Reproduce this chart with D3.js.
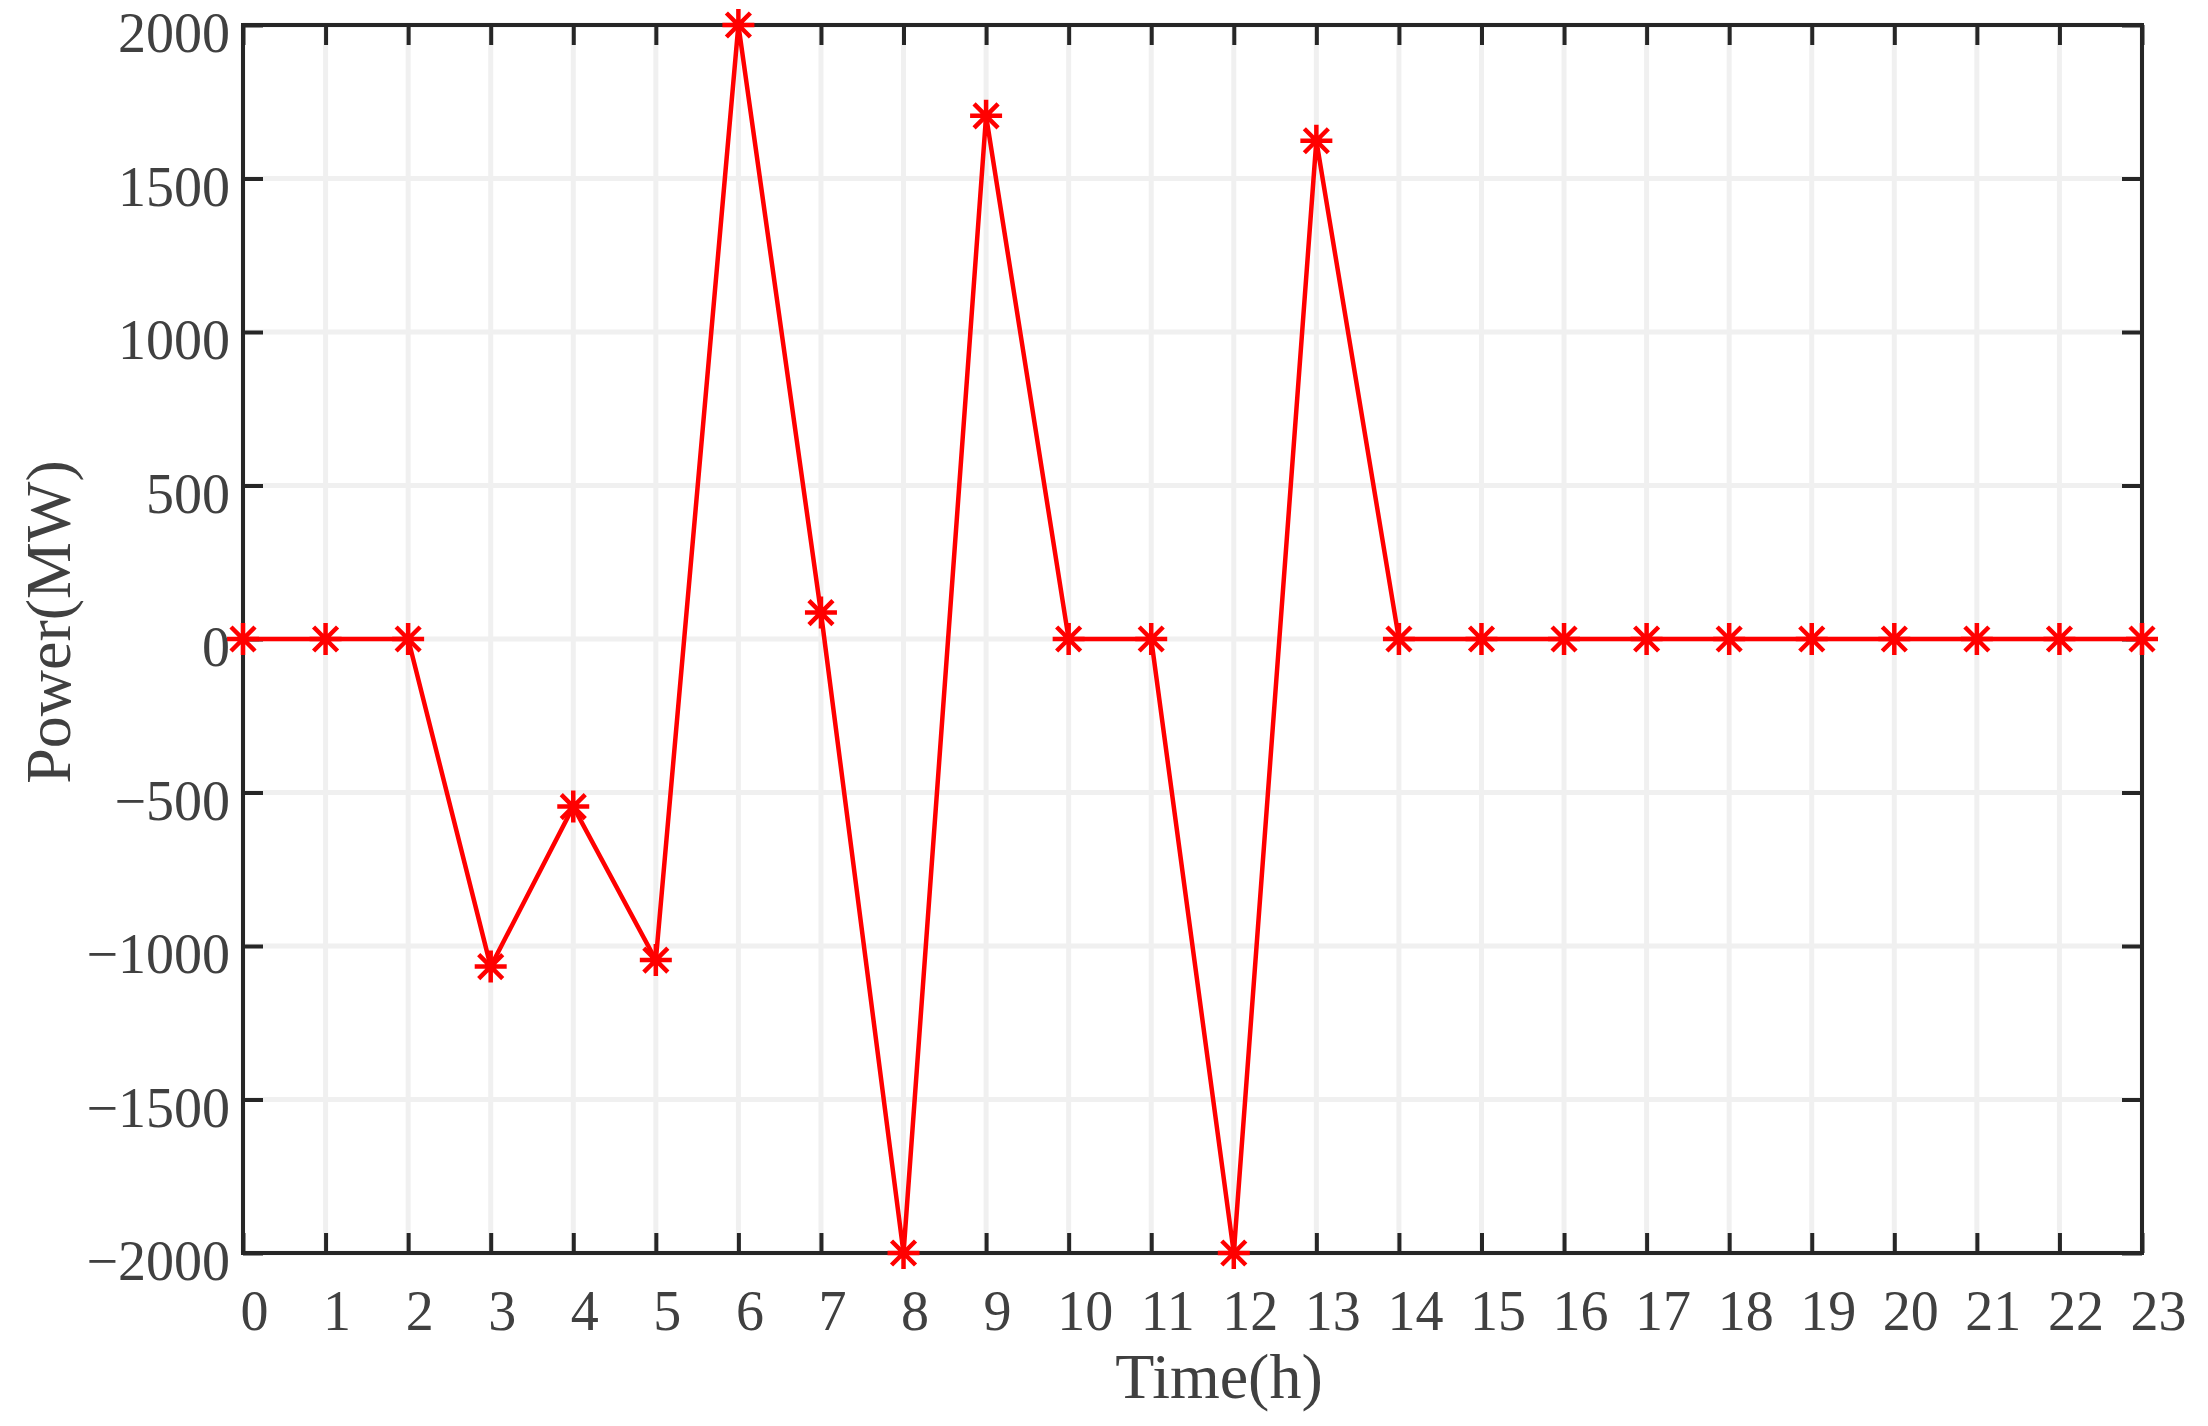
<!DOCTYPE html>
<html>
<head>
<meta charset="utf-8">
<script src="https://cdn.jsdelivr.net/npm/d3@7"></script>
<style>
  html, body { margin: 0; padding: 0; background: #ffffff; }
  svg { display: block; }
</style>
</head>
<body>
<svg id="chart" width="2208" height="1426"></svg>
<script>
// ---- data ----
const hours = [0,1,2,3,4,5,6,7,8,9,10,11,12,13,14,15,16,17,18,19,20,21,22,23];
const power = [0,0,0,-1067,-546,-1046,2000,86,-2000,1704,0,0,-2000,1623,0,0,0,0,0,0,0,0,0,0];
const yTicks = [-2000,-1500,-1000,-500,0,500,1000,1500,2000];
const xTicks = hours;
const xLabel = "Time(h)";
const yLabel = "Power(MW)";

// ---- layout ----
const L = 243, R = 2142, T = 25, B = 1253;
const font = "'Liberation Serif', 'DejaVu Serif', serif";
const textColor = "#404040";
const axisColor = "#262626";
const gridColor = "#f0f0f0";

const svg = d3.select("#chart");
const x = d3.scaleLinear().domain([0, 23]).range([L, R]);
const y = d3.scaleLinear().domain([-2000, 2000]).range([B, T]);

// grid
const grid = svg.append("g");
grid.selectAll("line.gx").data(xTicks).join("line")
  .attr("x1", d => x(d)).attr("x2", d => x(d))
  .attr("y1", T).attr("y2", B)
  .attr("stroke", gridColor).attr("stroke-width", 5);
grid.selectAll("line.gy").data(yTicks).join("line")
  .attr("y1", d => y(d)).attr("y2", d => y(d))
  .attr("x1", L).attr("x2", R)
  .attr("stroke", gridColor).attr("stroke-width", 5);

// axes using d3 axis generators (inward ticks)
const tickLen = 20;
const fmtY = d => d < 0 ? "\u2212" + Math.abs(d) : String(d);

const axB = svg.append("g").attr("transform", `translate(0,${B})`)
  .call(d3.axisBottom(x).tickValues(xTicks).tickSizeInner(-tickLen).tickSizeOuter(0).tickPadding(36));
const axT = svg.append("g").attr("transform", `translate(0,${T})`)
  .call(d3.axisTop(x).tickValues(xTicks).tickSizeInner(-tickLen).tickSizeOuter(0).tickFormat(""));
const axL = svg.append("g").attr("transform", `translate(${L},0)`)
  .call(d3.axisLeft(y).tickValues(yTicks).tickSizeInner(-tickLen).tickSizeOuter(0).tickPadding(13).tickFormat(fmtY));
const axR = svg.append("g").attr("transform", `translate(${R},0)`)
  .call(d3.axisRight(y).tickValues(yTicks).tickSizeInner(-tickLen).tickSizeOuter(0).tickFormat(""));

[axB, axT, axL, axR].forEach(a => {
  a.select(".domain").remove();
  a.selectAll(".tick line").attr("stroke", axisColor).attr("stroke-width", 4);
  a.selectAll(".tick text").attr("fill", textColor).attr("font-family", font).attr("font-size", 56);
});
axB.selectAll(".tick text")
  .attr("dx", d => d < 10 ? 11 : 16)
  .attr("dy", 0)
  .attr("y", 77);
axL.selectAll(".tick text")
  .attr("dy", "0.32em")
  .attr("y", 9);

// box
svg.append("rect")
  .attr("x", L).attr("y", T).attr("width", R - L).attr("height", B - T)
  .attr("fill", "none").attr("stroke", axisColor).attr("stroke-width", 4);

// series line
const line = d3.line().x((d, i) => x(hours[i])).y(d => y(d));
svg.append("path")
  .datum(power)
  .attr("d", line)
  .attr("fill", "none")
  .attr("stroke", "#ff0000")
  .attr("stroke-width", 4.5)
  .attr("stroke-linejoin", "miter");

// star markers
const r = 16, rd = 12;
const starPath = `M${-r},0L${r},0M0,${-r}L0,${r}M${-rd},${-rd}L${rd},${rd}M${-rd},${rd}L${rd},${-rd}`;
svg.append("g").selectAll("path").data(power).join("path")
  .attr("transform", (d, i) => `translate(${x(hours[i])},${y(d)})`)
  .attr("d", starPath)
  .attr("fill", "none")
  .attr("stroke", "#ff0000")
  .attr("stroke-width", 4.5);

// axis titles
svg.append("text")
  .attr("x", 1219).attr("y", 1398)
  .attr("text-anchor", "middle")
  .attr("fill", textColor).attr("font-family", font).attr("font-size", 64)
  .text(xLabel);
svg.append("text")
  .attr("transform", "translate(70,622) rotate(-90)")
  .attr("text-anchor", "middle")
  .attr("fill", textColor).attr("font-family", font).attr("font-size", 64)
  .text(yLabel);
</script>
</body>
</html>
